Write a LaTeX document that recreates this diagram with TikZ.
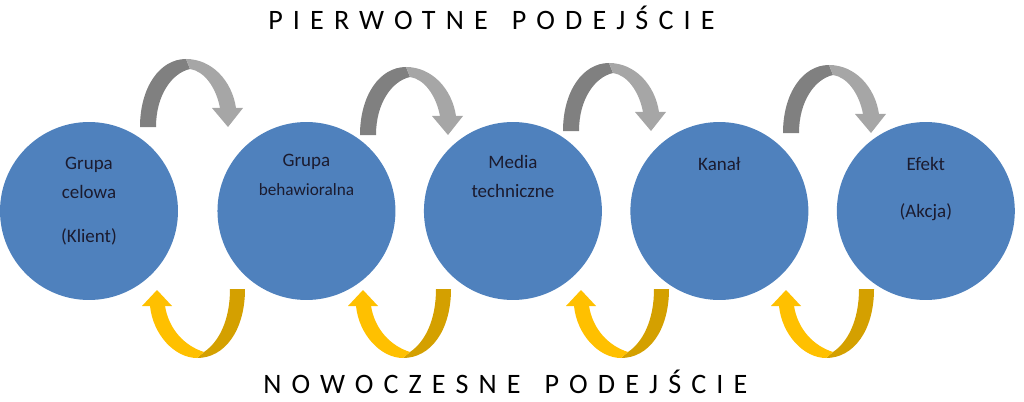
\documentclass[tikz,border=0pt]{standalone}
\usepackage{fontspec}
\setmainfont{Carlito}
\usetikzlibrary{shapes.geometric, positioning, calc}
\definecolor{circblue}{HTML}{4F81BD}
\definecolor{txtdark}{HTML}{1B1B2F}
\definecolor{graydark}{HTML}{808080}
\definecolor{graylight}{HTML}{A6A6A6}
\definecolor{goldbright}{HTML}{FFC000}
\definecolor{golddark}{HTML}{D4A000}
\tikzstyle{stage} = [circle, minimum size=3.56cm, inner sep=0pt, fill=circblue]
\tikzstyle{stagetext} = [align=center, text=txtdark, anchor=base, inner sep=0pt, font=\fontsize{10.8}{16}\selectfont]
\tikzstyle{heading} = [anchor=base west, inner sep=0pt, font=\fontsize{16}{18}\selectfont\addfontfeature{LetterSpace=36}]
\tikzstyle{upper} = [fill=graydark]
\tikzstyle{upperhead} = [fill=graylight]
\tikzstyle{lower} = [fill=golddark]
\tikzstyle{lowerhead} = [fill=goldbright]

\begin{document}
\begin{tikzpicture}[x=0.02cm, y=-0.02cm, node distance=4.13cm]

    \useasboundingbox (0,0) rectangle (1024,402);

    % Kola
    \node (c1) [stage] at (89,211) {};
    \node (c2) [stage, right of=c1, xshift=0.22cm] {};
    \node (c3) [stage, right of=c2] {};
    \node (c4) [stage, right of=c3] {};
    \node (c5) [stage, right of=c4] {};

    % Opisy (anchor base = ostatnia linia)
    \node (t1) [stagetext] at ($(c1)+(0,31)$) {Grupa\\celowa\\[9pt](Klient)};
    \node (t2) [stagetext] at ($(c2)+(0,-16)$) {Grupa\\{\fontsize{9.8}{16}\selectfont behawioralna}};
    \node (t3) [stagetext] at ($(c3)+(0,-14)$) {Media\\techniczne};
    \node (t4) [stagetext] at ($(c4)+(0,-41)$) {Kanał};
    \node (t5) [stagetext] at ($(c5)+(0,6)$) {Efekt\\[10.5pt](Akcja)};

    % Naglowki
    \node (top) [heading] at (268,30) {PIERWOTNE\hspace{0.15cm} PODEJŚCIE};
    \node (bottom) [heading] at (263,393) {NOWOCZESNE\hspace{0.15cm} PODEJŚCIE};

    % Strzalki gorne
    \foreach \x/\y in {140/127, 360/135, 563/131, 783/133} {
        \begin{scope}[shift={(\x,\y)}]
            \fill [upper] (0,0) .. controls (0,-40) and (20,-68) .. (46,-68) -- (50,-58)
                .. controls (32,-54) and (16,-32) .. (16,0) -- cycle;
            \fill [upperhead] (46,-68) .. controls (72,-68) and (92,-46) .. (96,-19) -- (103,-19)
                -- (88,0) -- (72,-19) -- (80,-19) .. controls (76,-40) and (64,-56) .. (50,-58) -- cycle;
        \end{scope}
    }

    % Strzalki dolne
    \foreach \x in {157, 363, 581, 786} {
        \begin{scope}[shift={(\x,290)}]
            \fill [lower] (40,68) .. controls (68,68) and (88,40) .. (88,-1) -- (73,-1)
                .. controls (73,30) and (62,52) .. (47,62) -- cycle;
            \fill [lowerhead] (-7,16) .. controls (-4,45) and (18,68) .. (40,68) -- (47,62)
                .. controls (28,56) and (12,40) .. (8,16) -- (15,16) -- (0,0) -- (-15,16) -- cycle;
        \end{scope}
    }

\end{tikzpicture}
\end{document}
